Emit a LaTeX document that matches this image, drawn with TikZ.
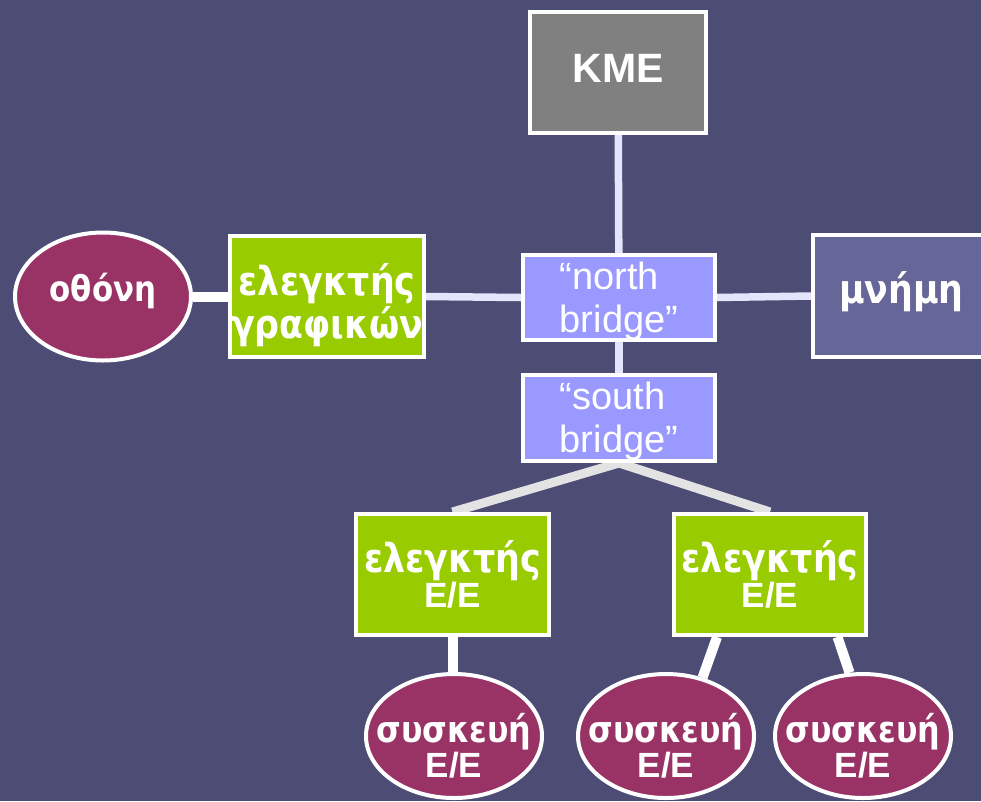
\documentclass[tikz,border=0pt]{standalone}
\usepackage{fontspec}
\setmainfont{Liberation Sans}
\newfontfamily\gr{DejaVu Sans}[FakeStretch=0.87]
\usetikzlibrary{calc,shapes.geometric,backgrounds}
\definecolor{bg}{HTML}{4C4C75}
\definecolor{kgray}{HTML}{808080}
\definecolor{bridge}{HTML}{9999FF}
\definecolor{mem}{HTML}{666699}
\definecolor{grn}{HTML}{99CC00}
\definecolor{dev}{HTML}{993366}
\definecolor{lav}{HTML}{E4E4FC}
\definecolor{lgray}{HTML}{E3E3E3}
\tikzset{
  box/.style={draw=white, line width=4, inner sep=0, text=white},
  ell/.style={ellipse, draw=white, line width=4, inner sep=0, text=white, fill=dev},
  lavline/.style={draw=lav, line width=7.5},
  grayline/.style={draw=lgray, line width=9},
  whiteline/.style={draw=white, line width=10},
}
% zero-size text placed with its last baseline #1 below the node centre
\newcommand{\tx}[2]{\makebox[0pt]{\raisebox{#1}[0pt][0pt]{#2}}}
\newcommand{\twoc}[3]{\vbox{\baselineskip=#1\lineskiplimit=-\maxdimen\lineskip=0pt\halign{\hfil##\hfil\cr#2\cr#3\cr}}}
\newcommand{\twol}[3]{\vbox{\baselineskip=#1\lineskiplimit=-\maxdimen\lineskip=0pt\halign{##\hfil\cr#2\cr#3\cr}}}
\newcommand{\ee}{{\normalfont\bfseries\fontsize{35}{35}\selectfont Ε/Ε}}
\newcommand{\grb}[1]{\gr\bfseries\fontsize{#1}{#1}\selectfont}
\begin{document}
\begin{tikzpicture}[x=1pt,y=-1pt]
\clip (0,0) rectangle (981,801);
% nodes
\node[box, fill=kgray, minimum width=176, minimum height=121, font=\bfseries\fontsize{41}{41}\selectfont] (kme) at (618,72) {\tx{-10pt}{KME}};
\node[box, fill=bridge, minimum width=192, minimum height=85, font=\fontsize{38}{43}\selectfont] (nb) at (619,297.5) {\tx{-34.5pt}{\twol{43pt}{“north}{bridge”}}};
\node[box, fill=bridge, minimum width=192, minimum height=86, font=\fontsize{38}{43}\selectfont] (sb) at (619,418) {\tx{-34pt}{\twol{43pt}{“south}{bridge”}}};
\node[box, fill=mem, minimum width=192, minimum height=122, font=\grb{40}] (mem) at (909,296) {\tx{-7pt}{\kern-15pt μνήμη}};
\node[box, fill=grn, minimum width=194, minimum height=121, font=\grb{40}] (gc) at (327,296.5) {\tx{-41.5pt}{\twoc{43pt}{ελεγκτής}{γραφικών}}};
\node[ell, minimum width=176, minimum height=128, font=\grb{35.5}] (oth) at (103,296.5) {\tx{-5pt}{οθόνη}};
\node[box, fill=grn, minimum width=193, minimum height=121, font=\grb{40}] (cl) at (452.5,574.5) {\tx{-32.5pt}{\twoc{35pt}{ελεγκτής}{\ee}}};
\node[box, fill=grn, minimum width=192, minimum height=121, font=\grb{40}] (cr) at (770,574.5) {\tx{-32.5pt}{\twoc{35pt}{ελεγκτής}{\ee}}};
\node[ell, minimum width=176, minimum height=124, font=\grb{36.5}] (d1) at (454,736) {\tx{-41pt}{\twoc{35pt}{συσκευή}{\ee}}};
\node[ell, minimum width=176, minimum height=124, font=\grb{36.5}] (d2) at (666,736) {\tx{-41pt}{\twoc{35pt}{συσκευή}{\ee}}};
\node[ell, minimum width=176, minimum height=124, font=\grb{36.5}] (d3) at (863,736) {\tx{-41pt}{\twoc{35pt}{συσκευή}{\ee}}};
% connectors (behind)
\begin{scope}[on background layer]
\fill[bg] (0,0) rectangle (981,801);
\draw[lavline] (kme) -- (nb);
\draw[lavline] (gc.east) -- (nb.west);
\draw[lavline] (nb.east) -- (mem.west);
\draw[lavline] (nb) -- (sb);
\draw[grayline] (sb.south) -- (cl.north);
\draw[grayline] (sb.south) -- (cr.north);
\draw[whiteline] (oth.east) -- (gc.west);
\draw[whiteline] (cl.south) -- (cl.south |- d1.north);
\coordinate (crl) at ($(cr.south)+(-53,0)$);
\coordinate (crr) at ($(cr.south)+(67.5,0)$);
\draw[whiteline] (crl) -- (d2.58);
\draw[whiteline] (crr) -- (d3.102);
\end{scope}
\end{tikzpicture}
\end{document}
